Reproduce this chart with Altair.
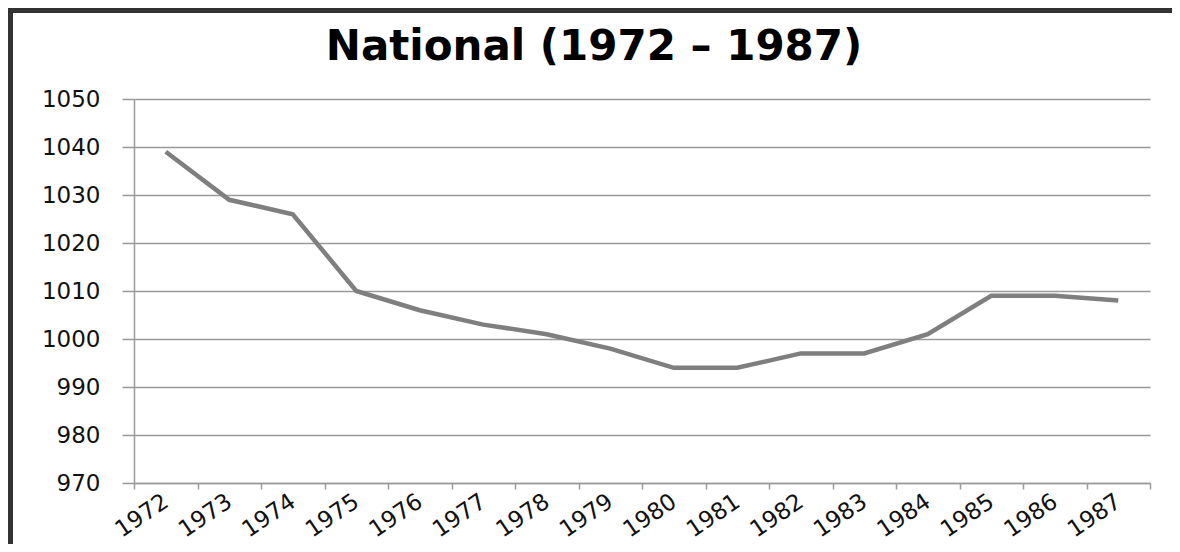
import altair as alt
import pandas as pd

years = ["1972", "1973", "1974", "1975", "1976", "1977", "1978", "1979",
         "1980", "1981", "1982", "1983", "1984", "1985", "1986", "1987"]
values = [1039, 1029, 1026, 1010, 1006, 1003, 1001, 998,
          994, 994, 997, 997, 1001, 1009, 1009, 1008]
y_ticks = [970, 980, 990, 1000, 1010, 1020, 1030, 1040, 1050]
title_text = "National (1972 \u2013 1987)"

df = pd.DataFrame({"year": years, "value": values})

FONT = "DejaVu Sans"
GRID = "#9a9a9a"

line = alt.Chart(df).mark_line(color="#7f7f7f", strokeWidth=4.5).encode(
    x=alt.X(
        "year:O",
        sort=years,
        bandPosition=0.5,
        scale=alt.Scale(type="band", paddingInner=0, paddingOuter=0),
        axis=alt.Axis(
            title=None,
            tickBand="extent",
            labelAngle=-34,
            labelAlign="right",
            labelBaseline="middle",
            labelPadding=10,
            labelFont=FONT,
            labelFontSize=23,
            labelColor="#111111",
            tickSize=6,
            tickColor=GRID,
            tickWidth=1.5,
            domainColor=GRID,
            domainWidth=1.5,
            grid=False,
        ),
    ),
    y=alt.Y(
        "value:Q",
        scale=alt.Scale(domain=[970, 1050], nice=False, zero=False),
        axis=alt.Axis(
            title=None,
            values=y_ticks,
            format="d",
            labelFont=FONT,
            labelFontSize=23,
            labelColor="#111111",
            labelPadding=22,
            tickSize=12,
            tickColor=GRID,
            tickWidth=1.5,
            domainColor=GRID,
            domainWidth=1.5,
            grid=True,
            gridColor=GRID,
            gridWidth=1.5,
        ),
    ),
)

frame_left = alt.Chart(df).mark_rule(color="#333333", strokeWidth=6).encode(
    x=alt.value(-124), y=alt.value(-88.5), y2=alt.value(445)
)
frame_top = alt.Chart(df).mark_rule(color="#333333", strokeWidth=3.5).encode(
    x=alt.value(-126), x2=alt.value(1038), y=alt.value(-88.5)
)

chart = (
    alt.layer(frame_left, frame_top, line)
    .properties(
        width=1016,
        height=384,
        title=alt.Title(
            title_text,
            font=FONT,
            fontSize=42,
            fontWeight="bold",
            color="#000000",
            anchor="middle",
            frame="group",
            baseline="alphabetic",
            offset=0,
            dy=94,
            dx=-48,
        ),
        autosize=alt.AutoSizeParams(type="none"),
        padding={"left": 126, "top": 91, "right": 22, "bottom": 61},
        background="white",
    )
    .configure_view(stroke=None)
)

chart.save("out.html", embed_options={"renderer": "svg", "actions": False})
